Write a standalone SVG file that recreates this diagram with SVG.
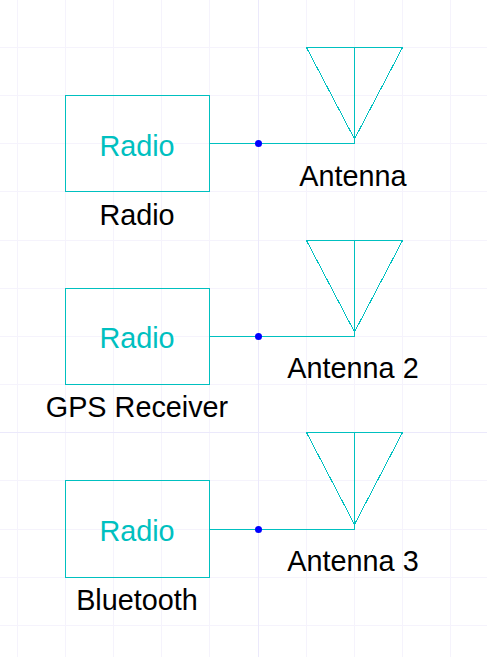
<svg xmlns="http://www.w3.org/2000/svg" width="487" height="657" viewBox="0 0 487 657">
<style>
.g{stroke:#f5f3fc;stroke-width:1;fill:none;shape-rendering:crispEdges}
.G{stroke:#ebe9fb;stroke-width:1;fill:none;shape-rendering:crispEdges}
.s{stroke:#00c0c0;stroke-width:1;fill:none;shape-rendering:crispEdges}
.d{fill:#0000ff}
text{font-family:"Liberation Sans",Arial,sans-serif;font-size:28.8px;text-anchor:middle}
.i{fill:#00c0c0}
.l{fill:#000}
</style>
<rect width="487" height="657" fill="#fff"/>
<g id="grid">
<path class="g" d="M17.5 0V657M65.5 0V657M113.5 0V657M161.5 0V657M209.5 0V657M306.5 0V657M354.5 0V657M402.5 0V657M450.5 0V657"/>
<path class="g" d="M0 47.5H487M0 95.5H487M0 143.5H487M0 191.5H487M0 240.5H487M0 288.5H487M0 336.5H487M0 384.5H487M0 480.5H487M0 529.5H487M0 577.5H487M0 625.5H487"/>
<path class="G" d="M258.5 0V657M0 432.5H487"/>
</g>
<g id="connectors">
<path class="s" d="M209.5 143.5H354.5V47.5"/>
<path class="s" d="M209.5 336.5H354.5V240.5"/>
<path class="s" d="M209.5 529.5H354.5V432.5"/>
</g>
<g id="radio1"><rect class="s" x="65.5" y="95.5" width="144" height="96"/><text class="i" x="137" y="155.5">Radio</text><text class="l" x="137" y="224.5">Radio</text></g>
<g id="antenna1"><path class="s" d="M306.5 47.5H402.5L354.5 139Z"/><text class="l" x="353" y="185.5">Antenna</text></g>
<g id="junction1"><circle class="d" cx="258.5" cy="143.5" r="3.5"/></g>
<g id="radio2"><rect class="s" x="65.5" y="288.5" width="144" height="96"/><text class="i" x="137" y="348">Radio</text><text class="l" x="137" y="417">GPS Receiver</text></g>
<g id="antenna2"><path class="s" d="M306.5 240.5H402.5L354.5 332Z"/><text class="l" x="353" y="378">Antenna 2</text></g>
<g id="junction2"><circle class="d" cx="258.5" cy="336.5" r="3.5"/></g>
<g id="radio3"><rect class="s" x="65.5" y="480.5" width="144" height="97"/><text class="i" x="137" y="541">Radio</text><text class="l" x="137" y="609.5">Bluetooth</text></g>
<g id="antenna3"><path class="s" d="M306.5 432.5H402.5L354.5 524.5Z"/><text class="l" x="353" y="571">Antenna 3</text></g>
<g id="junction3"><circle class="d" cx="258.5" cy="529.5" r="3.5"/></g>
</svg>
